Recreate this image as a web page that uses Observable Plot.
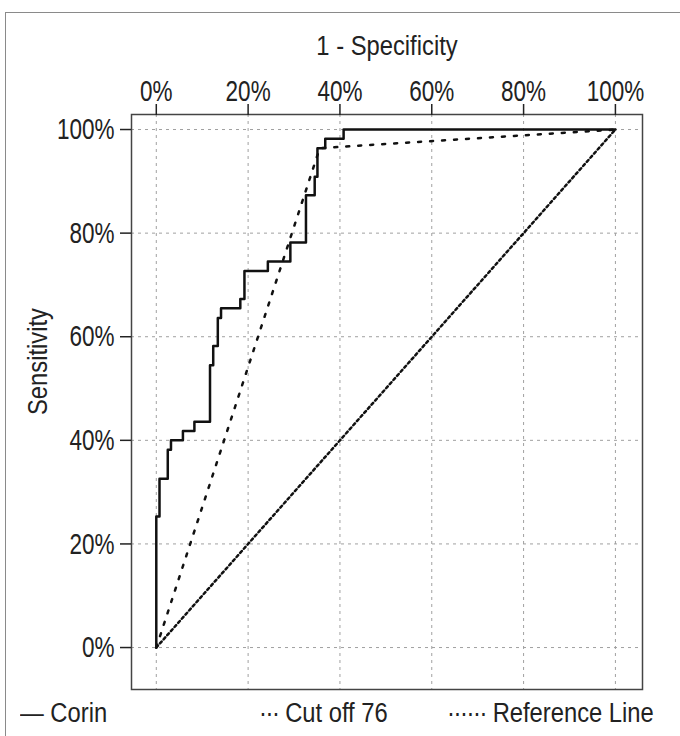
<!DOCTYPE html>
<html>
<head>
<meta charset="utf-8">
<script src="https://cdn.jsdelivr.net/npm/d3@7"></script>
<script src="https://cdn.jsdelivr.net/npm/@observablehq/plot@0.6"></script>
<style>
  body { margin: 0; background: #fff; }
  #box { position: absolute; left: 5px; top: 12px; width: 700px; height: 760px; border: 1.5px solid #8a8a8a; box-sizing: border-box; }
  #chart { position: absolute; left: 0; top: 0; }
  .lg { position: absolute; top: 700px; font-family: "Liberation Sans", Arial, sans-serif; font-size: 27px; line-height: 27px; color: #222; white-space: nowrap; transform: scaleX(0.88); transform-origin: left center; }
  .dots { letter-spacing: -1.6px; }
</style>
</head>
<body>
<div id="box"></div>
<div id="chart"></div>
<div class="lg" style="left:20px">— Corin</div>
<div class="lg" style="left:259px"><span class="dots">···</span> Cut off 76</div>
<div class="lg" style="left:447px"><span class="dots">······</span> Reference Line</div>
<script>
// Tick values (percent)
const xTicks = [0, 20, 40, 60, 80, 100];
const yTicks = [0, 20, 40, 60, 80, 100];
const xTitle = ["1 - Specificity"];
const yTitle = ["Sensitivity"];

// Corin ROC curve corner points (1 - specificity %, sensitivity %)
const corinFpr = [0, 0, 0.7, 2.5, 3.2, 5.8, 8.3, 11.7, 12.4, 13.4, 14.1, 18.3, 19.2, 24.3, 29.2, 32.6, 34.5, 35.1, 36.8, 40.8, 100];
const corinTpr = [0, 25.3, 32.6, 38.2, 40, 41.8, 43.6, 54.5, 58.2, 63.6, 65.5, 67.3, 72.7, 74.5, 78.2, 87.3, 90.9, 96.4, 98.2, 100, 100];

// Cut off 76 line
const cutFpr = [0, 35.6, 100];
const cutTpr = [0, 96.4, 100];

// Reference line
const refFpr = [0, 100];
const refTpr = [0, 100];

const corin = corinFpr.map((x, i) => ({x, y: corinTpr[i]}));
const cut = cutFpr.map((x, i) => ({x, y: cutTpr[i]}));
const ref = refFpr.map((x, i) => ({x, y: refTpr[i]}));

const font = '"Liberation Sans", Arial, sans-serif';

const chart = Plot.plot({
  width: 680,
  height: 692,
  marginLeft: 131,
  marginRight: 38,
  marginTop: 114,
  marginBottom: 3,
  x: {domain: [-5.4, 105.9]},
  y: {domain: [-8.1, 102.9]},
  style: {fontFamily: font, color: "#222", background: "transparent"},
  marks: [
    Plot.gridX(xTicks, {stroke: "#a0a0a0", strokeOpacity: 1, strokeDasharray: "3,4"}),
    Plot.gridY(yTicks, {stroke: "#a0a0a0", strokeOpacity: 1, strokeDasharray: "3,4"}),
    Plot.frame({stroke: "#444", strokeWidth: 1.5}),
    Plot.axisX(xTicks, {anchor: "top", tickSize: 11, tickPadding: 3, fontSize: 30, tickFormat: d => d + "%", label: null, strokeWidth: 1.5}),
    Plot.axisY(yTicks, {anchor: "left", tickSize: 11, tickPadding: 6, fontSize: 30, tickFormat: d => d + "%", label: null, strokeWidth: 1.5}),
    Plot.text(xTitle, {text: d => d, frameAnchor: "top", lineAnchor: "top", dy: -79, fontSize: 27, fill: "#222"}),
    Plot.text(yTitle, {text: d => d, frameAnchor: "left", rotate: -90, lineAnchor: "middle", dx: -93, dy: 13, fontSize: 27, fill: "#222"}),
    Plot.line(ref, {x: "x", y: "y", stroke: "#111", strokeWidth: 2.5, strokeDasharray: "2.5,3"}),
    Plot.line(cut, {x: "x", y: "y", stroke: "#111", strokeWidth: 2.5, strokeDasharray: "3,9"}),
    Plot.line(corin, {x: "x", y: "y", curve: "step-after", stroke: "#111", strokeWidth: 2.5})
  ]
});
document.getElementById("chart").appendChild(chart);

// Condense the lettering (the original uses a condensed typeface)
chart.querySelectorAll("text").forEach(t => {
  const holder = t.closest("[font-size]");
  const fs = holder ? parseFloat(holder.getAttribute("font-size")) : 10;
  const k = fs >= 29 ? 0.75 : 0.88;
  const w = t.getComputedTextLength();
  if (w > 0) {
    t.setAttribute("textLength", (w * k).toFixed(2));
    t.setAttribute("lengthAdjust", "spacingAndGlyphs");
  }
});
</script>
</body>
</html>
